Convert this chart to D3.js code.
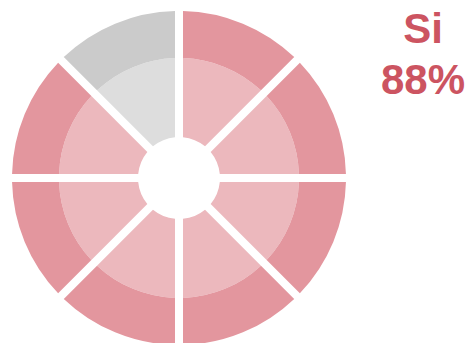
<!DOCTYPE html>
<html>
<head>
<meta charset="utf-8">
<script src="https://cdn.jsdelivr.net/npm/d3@7"></script>
<style>
  body { margin: 0; background: #fff; }
  svg { display: block; }
  .big-label { font-family: "Liberation Sans", Arial, sans-serif; font-weight: bold; fill: #cc5461; }
</style>
</head>
<body>
<svg id="chart" width="471" height="343"></svg>
<script>
// 8 segments, clockwise from top; last one is the "no" part
var segments = ["s1", "s2", "s3", "s4", "s5", "s6", "s7", "s8"];
var answers = ["si", "si", "si", "si", "si", "si", "si", "no"];
var rings = ["inner", "outer"];
var labelText = "Si";
var pctText = "88%";

var width = 471, height = 343;
var cx = 179, cy = 178;
var rHole = 41, rMid = 120, rOut = 167;
var gap = 8;

var colors = {
  si: { inner: "#ecb8bd", outer: "#e3969e" },
  no: { inner: "#dddddd", outer: "#cbcbcb" }
};

var svg = d3.select("#chart");
var g = svg.append("g").attr("transform", "translate(" + cx + "," + cy + ")");

var angle = d3.scaleBand().domain(segments).range([0, 2 * Math.PI]).paddingInner(0).paddingOuter(0);
var radius = d3.scaleOrdinal().domain(rings).range([[rHole, rMid], [rMid, rOut]]);

var padR = 100;
var arc = d3.arc()
  .padRadius(padR)
  .padAngle(gap / padR);

var cells = [];
segments.forEach(function(s, i) {
  rings.forEach(function(r) {
    cells.push({ seg: s, ans: answers[i], ring: r });
  });
});

g.selectAll("path.cell")
  .data(cells)
  .join("path")
  .attr("class", "cell")
  .attr("d", function(d) {
    var rr = radius(d.ring);
    return arc({
      innerRadius: rr[0],
      outerRadius: rr[1],
      startAngle: angle(d.seg),
      endAngle: angle(d.seg) + angle.bandwidth()
    });
  })
  .style("fill", function(d) { return colors[d.ans][d.ring]; });

svg.append("text")
  .attr("class", "big-label")
  .attr("x", 423).attr("y", 43)
  .attr("text-anchor", "middle")
  .style("font-size", "42px")
  .text(labelText);

svg.append("text")
  .attr("class", "big-label")
  .attr("x", 423).attr("y", 94)
  .attr("text-anchor", "middle")
  .style("font-size", "42px")
  .text(pctText);
</script>
</body>
</html>
